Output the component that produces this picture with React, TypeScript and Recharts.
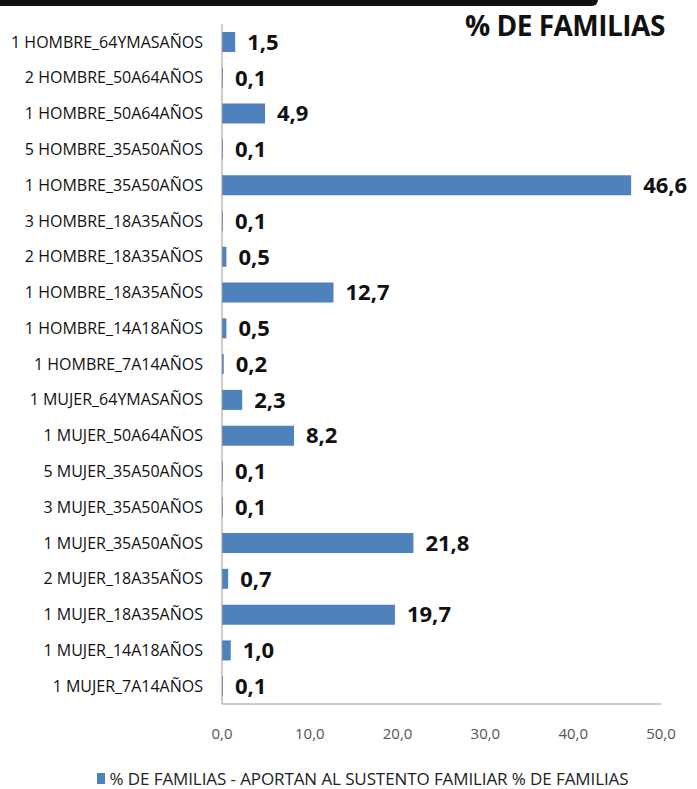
import React from 'react';
import { BarChart, Bar, XAxis, YAxis, Legend, LabelList } from 'recharts';

const categories = [
  '1 HOMBRE_64YMASAÑOS',
  '2 HOMBRE_50A64AÑOS',
  '1 HOMBRE_50A64AÑOS',
  '5 HOMBRE_35A50AÑOS',
  '1 HOMBRE_35A50AÑOS',
  '3 HOMBRE_18A35AÑOS',
  '2 HOMBRE_18A35AÑOS',
  '1 HOMBRE_18A35AÑOS',
  '1 HOMBRE_14A18AÑOS',
  '1 HOMBRE_7A14AÑOS',
  '1 MUJER_64YMASAÑOS',
  '1 MUJER_50A64AÑOS',
  '5 MUJER_35A50AÑOS',
  '3 MUJER_35A50AÑOS',
  '1 MUJER_35A50AÑOS',
  '2 MUJER_18A35AÑOS',
  '1 MUJER_18A35AÑOS',
  '1 MUJER_14A18AÑOS',
  '1 MUJER_7A14AÑOS',
];
const values = [1.5, 0.1, 4.9, 0.1, 46.6, 0.1, 0.5, 12.7, 0.5, 0.2, 2.3, 8.2, 0.1, 0.1, 21.8, 0.7, 19.7, 1.0, 0.1];
const xTicks = [0, 10, 20, 30, 40, 50];
const seriesName = '% DE FAMILIAS - APORTAN AL SUSTENTO FAMILIAR % DE FAMILIAS';
const title = '% DE FAMILIAS';

const data = categories.map((c, i) => ({ name: c, value: values[i] }));
const FONT = '"Open Sans", sans-serif';
const fmt = (v: number) => v.toFixed(1).replace('.', ',');

const LegendContent = () => (
  <div style={{ position: 'relative', top: 15, left: 32, display: 'flex', justifyContent: 'center', alignItems: 'center', fontFamily: FONT, fontSize: 17, color: '#222', letterSpacing: -0.1 }}>
    <span style={{ width: 8, height: 11, background: '#4F81BD', display: 'inline-block', marginRight: 5 }} />
    <span>{seriesName}</span>
  </div>
);

export default function App() {
  return (
    <div style={{ position: 'absolute', left: 0, top: 0, width: 697, height: 789, background: '#fff', overflow: 'hidden' }}>
      <div style={{ position: 'absolute', left: 0, top: 0, width: 598, height: 6, background: '#111', borderBottomRightRadius: 10 }} />
      <div style={{ position: 'absolute', left: 465, top: 6, fontFamily: FONT, fontWeight: 'bold', fontSize: 28, letterSpacing: -0.5, color: '#111', whiteSpace: 'nowrap' }}>{title}</div>
      <BarChart width={697} height={789} data={data} layout="vertical" margin={{ top: 24, right: 36, bottom: 0, left: 0 }} barSize={20}>
        <XAxis type="number" domain={[0, 50]} ticks={xTicks} tickFormatter={fmt} axisLine={{ stroke: '#999' }} tickLine={false} tickMargin={18} height={48}
          tick={{ fontFamily: FONT, fontSize: 15, fill: '#555' }} />
        <YAxis type="category" dataKey="name" width={222} axisLine={{ stroke: '#999' }} tickLine={false} tickMargin={13}
          tick={{ fontFamily: FONT, fontSize: 16, fill: '#111' }} interval={0} />
        <Legend verticalAlign="bottom" height={37} content={<LegendContent />} />
        <Bar dataKey="value" fill="#4F81BD" isAnimationActive={false}>
          <LabelList dataKey="value" position="right" offset={12} formatter={(v: number) => fmt(v)}
            style={{ fontFamily: FONT, fontWeight: 'bold', fontSize: 22, fill: '#111' }} />
        </Bar>
      </BarChart>
    </div>
  );
}
